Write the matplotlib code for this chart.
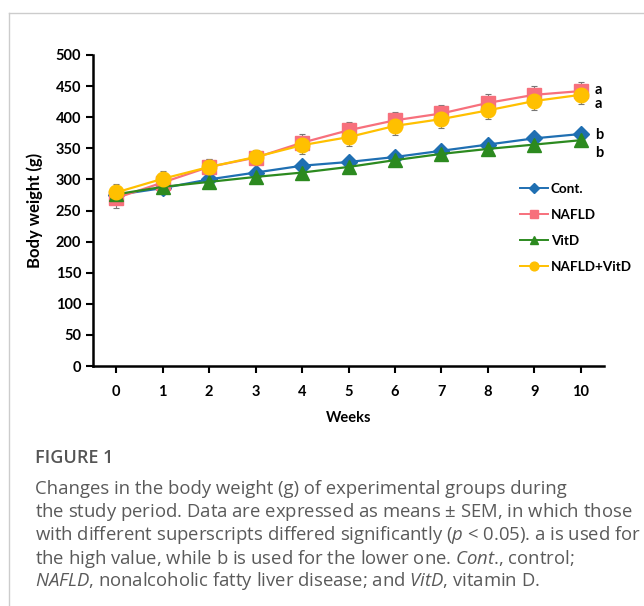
import matplotlib
matplotlib.use("Agg")
import matplotlib.pyplot as plt
from matplotlib.lines import Line2D

weeks = [0, 1, 2, 3, 4, 5, 6, 7, 8, 9, 10]
cont = [275, 286, 300, 311, 322, 328, 336, 346, 356, 366, 373]
nafld = [270, 295, 320, 335, 359, 379, 395, 406, 423, 436, 442]
vitd = [276, 288, 296, 304, 311, 320, 331, 341, 349, 356, 363]
nafld_vitd = [279, 301, 320, 336, 355, 368, 386, 397, 411, 426, 436]
cont_err = [5, 4, 4, 4, 5, 5, 5, 5, 5, 5, 5]
nafld_err = [16, 10, 12, 12, 14, 14, 14, 14, 14, 14, 14]
vitd_err = [5, 4, 4, 4, 5, 5, 5, 5, 5, 5, 5]
nafld_vitd_err = [14, 12, 12, 12, 14, 14, 14, 14, 14, 14, 14]
y_ticks = [0, 50, 100, 150, 200, 250, 300, 350, 400, 450, 500]
sig_labels = ["a", "a", "b", "b"]

series = [
    ("Cont.", cont, cont_err, "#1f6fb2", "D", 8.5),
    ("NAFLD", nafld, nafld_err, "#f7707c", "s", 9.5),
    ("VitD", vitd, vitd_err, "#2c8a1f", "^", 9.5),
    ("NAFLD+VitD", nafld_vitd, nafld_vitd_err, "#ffc000", "o", 10.5),
]

cfont = "Lato"
fig = plt.figure(figsize=(6.44, 6.06), dpi=100)
ax = fig.add_axes([93 / 644, 1 - 366 / 606, 511 / 644, 311 / 606])

for name, vals, err, col, mk, ms in series:
    ax.errorbar(weeks, vals, yerr=err, fmt="none", ecolor="#777777",
                elinewidth=0.8, capsize=2.5, capthick=0.8, zorder=2)
for name, vals, err, col, mk, ms in series:
    ax.plot(weeks, vals, color=col, lw=1.6, marker=mk, ms=ms,
            markeredgecolor=col, zorder=3)

ax.set_xlim(-0.5, 10.5)
ax.set_ylim(0, 500)
ax.set_yticks(y_ticks)
ax.set_xticks(weeks)
for s in ["top", "right"]:
    ax.spines[s].set_visible(False)
for s in ["left", "bottom"]:
    ax.spines[s].set_linewidth(1.8)
ax.tick_params(axis="both", direction="out", length=5, width=1.5,
               labelsize=10.5)
ax.tick_params(axis="x", pad=9)
for lab in ax.get_xticklabels() + ax.get_yticklabels():
    lab.set_fontfamily(cfont)
    lab.set_fontweight("bold")
ax.set_xlabel("Weeks", fontfamily=cfont, fontweight="bold", fontsize=10.5,
              labelpad=8)
ax.set_ylabel("Body weight (g)", fontfamily=cfont, fontweight="bold",
              fontsize=12, labelpad=9)

# significance letters
sig_y = [nafld[-1], nafld_vitd[-1], cont[-1], vitd[-1]]
offs = [1, -14, -2, -20]
for lab, yv, o in zip(sig_labels, sig_y, offs):
    ax.text(10.3, yv + o, lab, fontfamily=cfont, fontweight="bold",
            fontsize=10.5, va="center", ha="left")

handles = [Line2D([0], [0], color=c, marker=m, ms=ms * 0.6, lw=1.4,
                  markeredgecolor=c) for _, _, _, c, m, ms in series]
leg = ax.legend(handles, [s[0] for s in series], loc="center left",
                bbox_to_anchor=(0.822, 0.444), frameon=False, borderpad=0,
                handlelength=2.1, handletextpad=0.2, labelspacing=1.05,
                prop={"family": cfont, "weight": "bold", "size": 9.7})
leg.set_clip_on(False)

# figure border
fig.add_artist(Line2D([9 / 644, 9 / 644], [0, 1 - 13 / 606], color="#cccccc",
                      lw=1, transform=fig.transFigure))
fig.add_artist(Line2D([9 / 644, 1], [1 - 13 / 606, 1 - 13 / 606],
                      color="#cccccc", lw=1, transform=fig.transFigure))

cap_font = "Open Sans"
fig.text(35 / 644, 1 - 458 / 606, "FIGURE 1", fontfamily=cap_font,
         fontweight="semibold", fontsize=13, color="#555555", va="center")
lines = [
    "Changes in the body weight (g) of experimental groups during",
    "the study period. Data are expressed as means $\\pm$ SEM, in which those",
    "with different superscripts differed significantly ($\\it{p}$ < 0.05). a is used for",
    "the high value, while b is used for the lower one. $\\it{Cont}$., control;",
    "$\\it{NAFLD}$, nonalcoholic fatty liver disease; and $\\it{VitD}$, vitamin D.",
]
ys = [489, 512, 535, 559, 581]
plt.rcParams["mathtext.fontset"] = "custom"
plt.rcParams["mathtext.rm"] = cap_font
plt.rcParams["mathtext.it"] = cap_font + ":italic"
for t, y in zip(lines, ys):
    fig.text(35 / 644, 1 - y / 606, t, fontfamily=cap_font, fontsize=13.3,
             color="#5a5a5a", va="center")

fig.savefig("out.png", dpi=100)
